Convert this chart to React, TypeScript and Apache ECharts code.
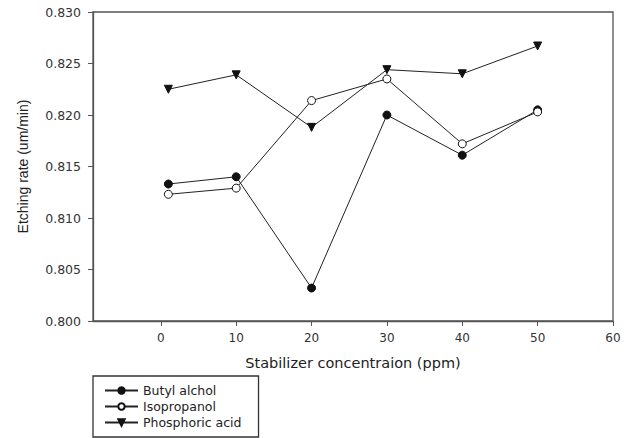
import React, { useEffect, useRef } from "react";
import * as echarts from "echarts";

const concentrations = [1, 10, 20, 30, 40, 50];
const butylAlchol = [0.8133, 0.814, 0.8032, 0.82, 0.8161, 0.8205];
const isopropanol = [0.8123, 0.8129, 0.8214, 0.8235, 0.8172, 0.8203];
const phosphoricAcid = [0.8225, 0.8239, 0.8188, 0.8244, 0.824, 0.8267];
const xTicks = [0, 10, 20, 30, 40, 50, 60];

const WIDE = "'DejaVu Sans', Arial, sans-serif";
const ARIAL = "'Liberation Sans', Arial, sans-serif";

export default function App() {
  const ref = useRef<HTMLDivElement>(null);
  useEffect(() => {
    if (!ref.current) return;
    const chart = echarts.init(ref.current, undefined, { renderer: "svg" });
    const pair = (ys: number[]) => concentrations.map((x, i) => [x, ys[i]]);
    const lineStyle = { color: "#222", width: 1 };
    const axisLine = { show: true, onZero: false, lineStyle: { color: "#555", width: 1.3 } };
    chart.setOption({
      animation: false,
      backgroundColor: "#fff",
      textStyle: { fontFamily: WIDE },
      grid: {
        left: 93,
        right: 21,
        top: 12,
        bottom: 117,
        show: true,
        borderColor: "#555",
        borderWidth: 1.3,
      },
      xAxis: {
        type: "value",
        min: -9,
        max: 60,
        name: "Stabilizer concentraion (ppm)",
        nameLocation: "middle",
        nameGap: 34,
        nameTextStyle: { fontSize: 14.5, color: "#222", fontFamily: WIDE },
        axisLine,
        axisTick: { show: true, inside: false, length: 5, customValues: xTicks, lineStyle: { color: "#555" } },
        axisLabel: { customValues: xTicks, margin: 11, fontSize: 12, color: "#333", fontFamily: WIDE },
        splitLine: { show: false },
      },
      yAxis: {
        type: "value",
        min: 0.8,
        max: 0.83,
        interval: 0.005,
        name: "Etching rate (um/min)",
        nameLocation: "middle",
        nameGap: 63,
        nameTextStyle: { fontSize: 14, color: "#222", fontFamily: ARIAL },
        axisLine,
        axisTick: { show: true, inside: false, length: 5, lineStyle: { color: "#555" } },
        axisLabel: {
          margin: 12,
          fontSize: 12.5,
          color: "#333",
          fontFamily: WIDE,
          formatter: (v: number) => v.toFixed(3),
        },
        splitLine: { show: false },
      },
      legend: {
        orient: "vertical",
        left: 93,
        top: 376,
        height: 46,
        padding: [8, 17, 8, 11],
        borderColor: "#333",
        borderWidth: 1.3,
        itemWidth: 33,
        itemHeight: 8,
        itemGap: 3,
        textStyle: { fontSize: 12.5, color: "#222", fontFamily: WIDE, lineHeight: 12.5 },
        data: ["Butyl alchol", "Isopropanol", "Phosphoric acid"],
      },
      series: [
        {
          name: "Butyl alchol",
          type: "line",
          data: pair(butylAlchol),
          symbol: "circle",
          symbolSize: 8,
          lineStyle,
          itemStyle: { color: "#111", borderColor: "#111", borderWidth: 1 },
        },
        {
          name: "Isopropanol",
          type: "line",
          data: pair(isopropanol),
          symbol: "circle",
          symbolSize: 8,
          lineStyle,
          itemStyle: { color: "#fff", borderColor: "#111", borderWidth: 1 },
        },
        {
          name: "Phosphoric acid",
          type: "line",
          data: pair(phosphoricAcid),
          symbol: "triangle",
          symbolRotate: 180,
          symbolSize: 8,
          lineStyle,
          itemStyle: { color: "#111", borderColor: "#111", borderWidth: 1 },
        },
      ],
    });
    return () => chart.dispose();
  }, []);
  return <div ref={ref} style={{ width: 634, height: 438, position: "absolute", left: 0, top: 0 }} />;
}
